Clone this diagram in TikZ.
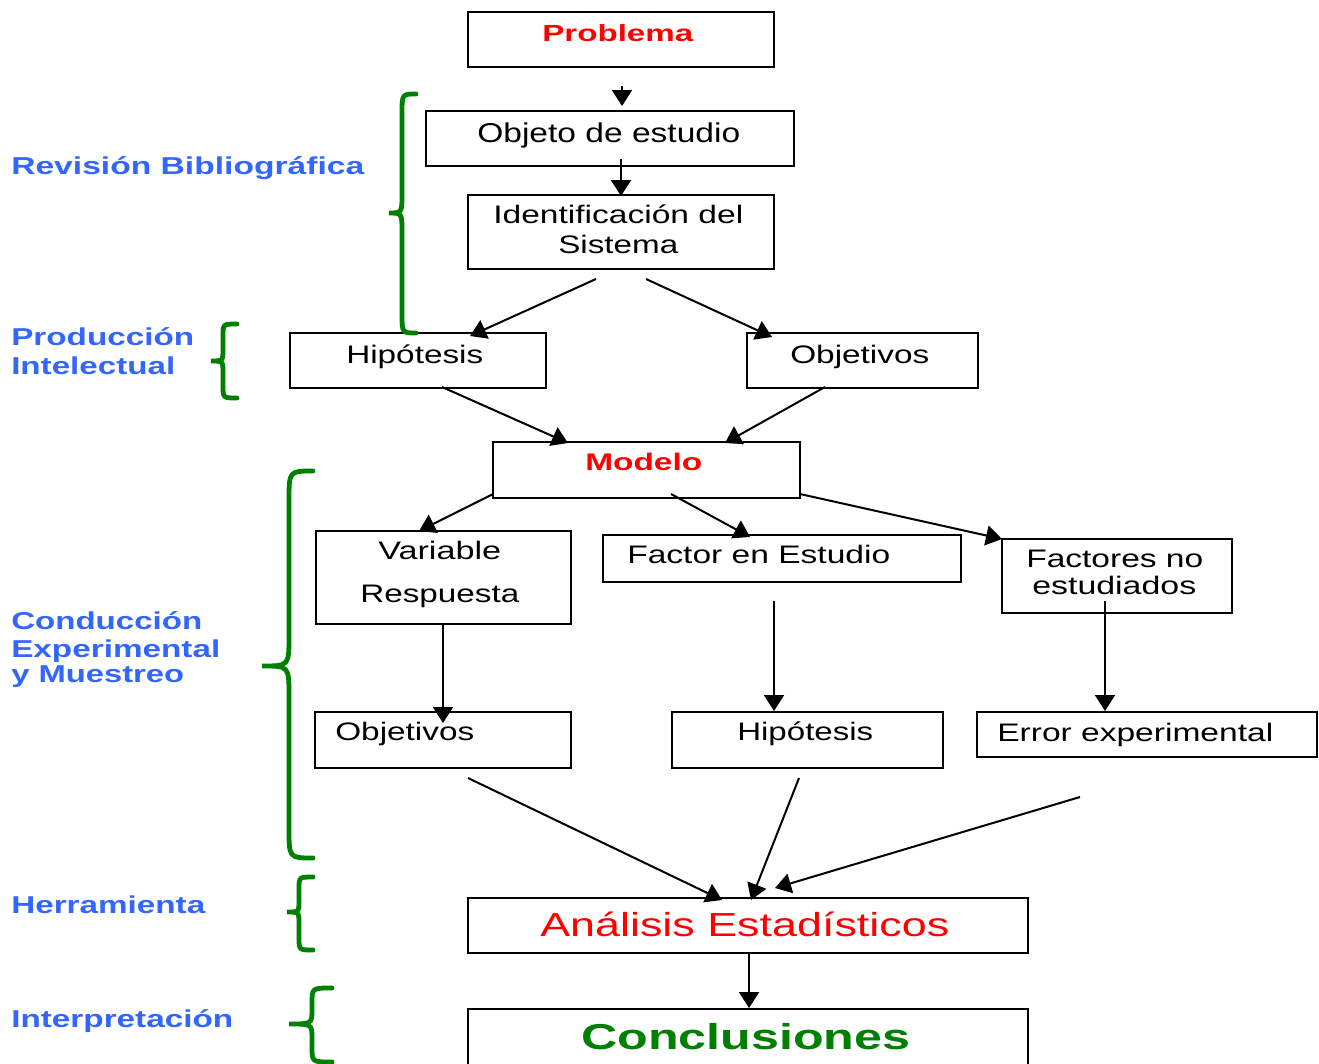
\documentclass[tikz,border=0pt]{standalone}
\usepackage{fontspec}
\setmainfont{Liberation Sans}
\usetikzlibrary{arrows.meta,fit}
\definecolor{lblue}{RGB}{51,102,255}
\definecolor{dgreen}{RGB}{0,128,0}
\newlength\px \setlength\px{0.75pt}
\newcommand\tx[3]{\resizebox{#1\px}{\height}{\fontsize{#2pt}{#2pt}\selectfont #3}}
\newcommand\gbrace[7]{% xt xv xp yt ym yb r
  \draw[gbr] (#1,#4) .. controls (#2,#4) .. (#2,#4+#7) -- (#2,#5-#7)
    .. controls (#2,#5) .. (#3,#5) .. controls (#2,#5) .. (#2,#5+#7)
    -- (#2,#6-#7) .. controls (#2,#6) .. (#1,#6);}
\begin{document}
\begin{tikzpicture}[x=0.75pt,y=-0.75pt,
  box/.style={draw=black, line width=1.7pt, inner sep=0pt, fit={#1}},
  lbl/.style={anchor=base west, inner sep=0pt},
  side/.style={lbl, text=lblue, font=\bfseries},
  arr/.style={line width=1.5pt, -{Triangle[length=12pt,width=15pt]}},
  gbr/.style={draw=dgreen, line width=3.6pt, line cap=round}]
\useasboundingbox (0,0) rectangle (1319,1063);
\clip (0,0) rectangle (1319,1063);
\fill[white] (0,0) rectangle (1319,1063);

% boxes
\node[box={(468,12) (774,67)}] (prob) {};
\node[box={(426,111) (794,166)}] (obj) {};
\node[box={(468,195) (774,269)}] (ident) {};
\node[box={(290,333) (546,388)}] (hip1) {};
\node[box={(747,333) (978,388)}] (objv1) {};
\node[box={(493,442) (800,498)}] (model) {};
\node[box={(316,531) (571,624)}] (varr) {};
\node[box={(603,535) (961,582)}] (fact) {};
\node[box={(1002,539) (1232,613)}] (factno) {};
\node[box={(315,712) (571,768)}] (objv2) {};
\node[box={(672,712) (943,768)}] (hip2) {};
\node[box={(977,712) (1317,757)}] (err) {};
\node[box={(468,898) (1028,953)}] (anal) {};
\node[box={(468,1009) (1028,1090)}] (concl) {};

% box texts
\node[lbl, text=red, font=\bfseries] (probT) at (542,42) {\tx{151}{17.5}{Problema}};
\node[lbl] (objT) at (477,142) {\tx{263}{20.4}{Objeto de estudio}};
\node[lbl] (idT1) at (493,223) {\tx{250}{19}{Identificación del}};
\node[lbl] (idT2) at (558,253) {\tx{120}{19}{Sistema}};
\node[lbl] (hip1T) at (346,363) {\tx{137}{19}{Hipótesis}};
\node[lbl] (objv1T) at (790,363) {\tx{139}{19}{Objetivos}};
\node[lbl, text=red, font=\bfseries] (modT) at (585,470) {\tx{117}{18}{Modelo}};
\node[lbl] (varT1) at (378,559) {\tx{123}{19}{Variable}};
\node[lbl] (varT2) at (360,602) {\tx{159}{19}{Respuesta}};
\node[lbl] (factT) at (627,563) {\tx{263}{19}{Factor en Estudio}};
\node[lbl] (fnoT1) at (1026,567) {\tx{177}{19}{Factores no}};
\node[lbl] (fnoT2) at (1032,594) {\tx{164}{19}{estudiados}};
\node[lbl] (objv2T) at (335,740) {\tx{139}{19}{Objetivos}};
\node[lbl] (hip2T) at (737,740) {\tx{136}{19}{Hipótesis}};
\node[lbl] (errT) at (997,741) {\tx{276}{19}{Error experimental}};
\node[lbl, text=red] (analT) at (540,936) {\tx{409}{25}{Análisis Estadísticos}};
\node[lbl, text=dgreen, font=\bfseries] (conclT) at (581,1049) {\tx{329}{27}{Conclusiones}};

% side labels
\node[side] (revT) at (11,174) {\tx{353}{18.3}{Revisión Bibliográfica}};
\node[side] (prodT1) at (11,345) {\tx{183}{18.3}{Producción}};
\node[side] (prodT2) at (11,374) {\tx{164}{18.3}{Intelectual}};
\node[side] (condT1) at (11,629) {\tx{191}{18.3}{Conducción}};
\node[side] (condT2) at (11,657) {\tx{209}{18.3}{Experimental}};
\node[side] (condT3) at (11,682) {\tx{173}{18.3}{y Muestreo}};
\node[side] (herrT) at (11,913) {\tx{194}{18.3}{Herramienta}};
\node[side] (intT) at (11,1027) {\tx{222}{18.3}{Interpretación}};

% braces
\gbrace{416}{402}{389}{94}{213}{333}{20}
\gbrace{237}{223}{211}{324}{361}{398}{12}
\gbrace{313}{289}{262}{471}{666}{858}{30}
\gbrace{313}{299}{287}{877}{912}{950}{12}
\gbrace{332}{312}{289}{988}{1024}{1062}{15}

% connector end points
\coordinate (s1) at (622,86);   \coordinate (e1) at (622,106);
\coordinate (s2) at (621,159);  \coordinate (e2) at (621,196);
\coordinate (s3) at (596,279);  \coordinate (e3) at (470,336);
\coordinate (s4) at (646,279);  \coordinate (e4) at (772,337);
\coordinate (s5) at (442,387);  \coordinate (e5) at (568,443);
\coordinate (s6) at (825,387);  \coordinate (e6) at (725,443);
\coordinate (s7) at (493,494);  \coordinate (e7) at (419,531);
\coordinate (s8) at (671,494);  \coordinate (e8) at (750,537);
\coordinate (s9) at (800,494);  \coordinate (e9) at (1002,539);
\coordinate (s10) at (443,624); \coordinate (e10) at (443,723);
\coordinate (s11) at (774,601); \coordinate (e11) at (774,711);
\coordinate (s12) at (1105,601);\coordinate (e12) at (1105,711);
\coordinate (s13) at (468,778); \coordinate (e13) at (722,900);
\coordinate (s14) at (799,778); \coordinate (e14) at (751,900);
\coordinate (s15) at (1080,797);\coordinate (e15) at (775,888);
\coordinate (s16) at (749,953); \coordinate (e16) at (749,1008);

\foreach \i in {1,...,16} \draw[arr] (s\i) -- (e\i);
\end{tikzpicture}
\end{document}
